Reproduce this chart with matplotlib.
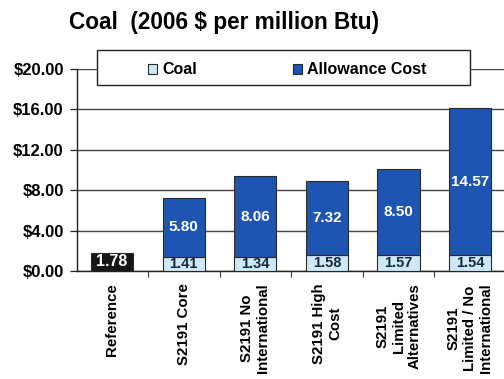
import matplotlib
matplotlib.use("Agg")
import matplotlib.pyplot as plt
from matplotlib.patches import Rectangle, Patch
from matplotlib.ticker import FixedLocator, FuncFormatter

plt.rcParams['font.family'] = ['Liberation Sans', 'DejaVu Sans']
plt.rcParams['font.weight'] = 'bold'

categories = ["Reference", "S2191 Core", "S2191 No\nInternational", "S2191 High\nCost",
              "S2191\nLimited\nAlternatives", "S2191\nLimited / No\nInternational"]
coal = [1.78, 1.41, 1.34, 1.58, 1.57, 1.54]
allowance = [0.0, 5.80, 8.06, 7.32, 8.50, 14.57]
y_ticks = [0, 4, 8, 12, 16, 20]

coal_color = "#cde8f6"
allow_color = "#1f55b2"
ref_color = "#161616"
edge = "#2a2a2a"

fig = plt.figure(figsize=(5.04, 3.79), dpi=100)
ax = fig.add_axes([77 / 504, 108 / 379, 429 / 504, 202 / 379])

x = list(range(len(categories)))
coal_colors = [ref_color] + [coal_color] * (len(categories) - 1)
bw = 0.59
ax.bar(x, coal, width=bw, color=coal_colors, edgecolor=edge, linewidth=0.8, zorder=3)
ax.bar(x[1:], allowance[1:], bottom=coal[1:], width=bw, color=allow_color,
       edgecolor=edge, linewidth=0.8, zorder=3)

# value labels
for i in x:
    if i == 0:
        ax.text(i, coal[i] / 2 + 0.05, f"{coal[i]:.2f}", ha='center', va='center',
                color='white', fontsize=11.5, fontweight='bold', zorder=4)
    else:
        ax.text(i, coal[i] / 2 + 0.03, f"{coal[i]:.2f}", ha='center', va='center',
                color='#1a2540', fontsize=10.5, fontweight='bold', zorder=4)
        ax.text(i, coal[i] + allowance[i] / 2, f"{allowance[i]:.2f}", ha='center',
                va='center', color='white', fontsize=11, fontweight='bold', zorder=4)

ax.set_xlim(-0.49, 5.5)
ax.set_ylim(0, 20)
ax.set_yticks(y_ticks)
ax.yaxis.set_major_formatter(FuncFormatter(lambda v, p: f"${v:.2f}"))
ax.grid(axis='y', color='#444444', linewidth=1.0, zorder=0)
ax.set_axisbelow(True)

ax.set_xticks(x)
ax.set_xticklabels(categories, rotation=90, ha='center', va='top',
                   multialignment='center', fontsize=10.8, fontweight='bold')
ax.xaxis.set_minor_locator(FixedLocator([i + 0.5 for i in x[:-1]]))
ax.tick_params(axis='x', which='major', length=0, pad=9)
ax.tick_params(axis='x', which='minor', length=4, width=0.8, direction='out', color='#444444')
ax.tick_params(axis='y', which='major', length=5, width=0.9, pad=4.5, labelsize=12, color='#222222')
for lbl in ax.get_yticklabels():
    lbl.set_fontweight('bold')

for s in ['top', 'right']:
    ax.spines[s].set_visible(False)
ax.spines['left'].set_color('#222222')
ax.spines['bottom'].set_color('#222222')
ax.spines['left'].set_linewidth(1.0)
ax.spines['bottom'].set_linewidth(1.0)

# legend box
box = Rectangle((97 / 504, 1 - 85 / 379), 373 / 504, 35 / 379, transform=fig.transFigure,
                facecolor='white', edgecolor='#222222', linewidth=1.0, zorder=6, clip_on=False)
ax.add_artist(box)
handles = [Patch(facecolor=coal_color, edgecolor=edge, linewidth=0.8, label="Coal"),
           Patch(facecolor=allow_color, edgecolor=edge, linewidth=0.8, label="Allowance Cost")]
leg = ax.legend(handles=handles, ncol=2, frameon=False, loc='center left',
                bbox_to_anchor=(140 / 504, 1 - 70 / 379), bbox_transform=fig.transFigure,
                borderpad=0, handlelength=0.55, handleheight=0.55, handletextpad=0.35,
                columnspacing=6.0, prop={'weight': 'bold', 'size': 11.5})
leg.set_zorder(7)

fig.text(224 / 504, 1 - 29 / 379, "Coal  (2006 $ per million Btu)", ha='center',
         va='baseline', fontsize=16.3, fontweight='bold')

fig.savefig("out.png", dpi=100)
